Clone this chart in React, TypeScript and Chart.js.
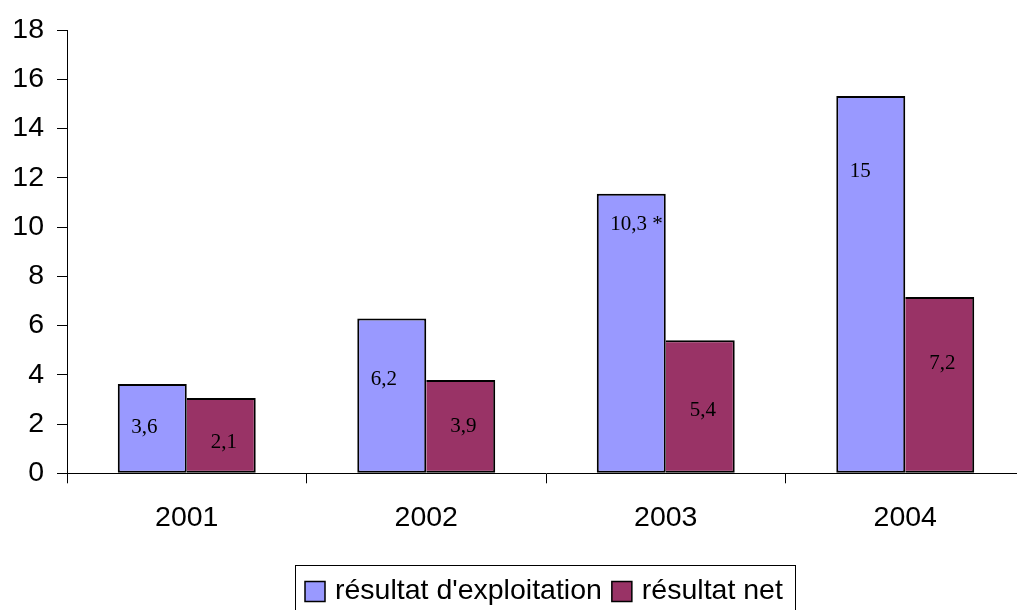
import React, { useEffect, useRef } from "react";
import { Chart, registerables } from "chart.js";

Chart.register(...registerables);

// ---- data ----
const categories = ["2001", "2002", "2003", "2004"];
const seriesNames = ["résultat d'exploitation", "résultat net"];
const exploitation = [3.63, 6.29, 11.35, 15.32];
const net = [3.06, 3.79, 5.4, 7.16];
const exploitationLabels = ["3,6", "6,2", "10,3 *", "15"];
const netLabels = ["2,1", "3,9", "5,4", "7,2"];
// where each value label sits, in y-axis units
const exploitationLabelAt = [1.88, 3.83, 10.09, 12.27];
const netLabelAt = [1.26, 1.92, 2.55, 4.46];
const yMin = 0;
const yMax = 18;
const yStep = 2;

const BLUE = "#9999FF";
const MAROON = "#993366";
const SANS = '"Liberation Sans", Arial, sans-serif';
const SERIF = '"Liberation Serif", "Times New Roman", serif';
const AXIS_FONT_SIZE = 28.5;

const valueLabelsPlugin = {
  id: "valueLabels",
  afterDatasetsDraw(chart: any) {
    const ctx = chart.ctx;
    const yScale = chart.scales.y;
    ctx.save();
    ctx.font = `21px ${SERIF}`;
    ctx.fillStyle = "#000";
    ctx.textBaseline = "middle";
    ctx.textAlign = "left";
    const sets = [
      { texts: exploitationLabels, at: exploitationLabelAt, inset: 13.5 },
      { texts: netLabels, at: netLabelAt, inset: 24 },
    ];
    sets.forEach((s, di) => {
      const meta = chart.getDatasetMeta(di);
      meta.data.forEach((bar: any, i: number) => {
        const { x, width } = bar.getProps(["x", "width"], true);
        ctx.fillText(s.texts[i], x - width / 2 + s.inset, yScale.getPixelForValue(s.at[i]));
      });
    });
    ctx.restore();
  },
};

const legendBoxPlugin = {
  id: "legendBox",
  afterDraw(chart: any) {
    const ctx = chart.ctx;
    const area = chart.chartArea;
    const colors = [BLUE, MAROON];
    const padL = 10;
    const padR = 12;
    const box = 20;
    const gap = 10;
    const itemGap = 10;
    ctx.save();
    ctx.font = `${AXIS_FONT_SIZE}px ${SANS}`;
    const widths = seriesNames.map((n) => ctx.measureText(n).width);
    let total = padL + padR + itemGap * (seriesNames.length - 1);
    widths.forEach((w) => (total += box + gap + w));
    const cx = (area.left + area.right) / 2 - 1.5;
    const left = Math.round(cx - total / 2);
    const top = 565;
    ctx.strokeStyle = "#000";
    ctx.lineWidth = 1;
    ctx.strokeRect(left + 0.5, top + 0.5, Math.round(total), 80);
    const cy = 591.5;
    let x = left + padL;
    seriesNames.forEach((name, i) => {
      ctx.fillStyle = colors[i];
      ctx.fillRect(x, cy - box / 2, box, box);
      ctx.lineWidth = 1.5;
      ctx.strokeStyle = "#000";
      ctx.strokeRect(x, cy - box / 2, box, box);
      x += box + gap;
      ctx.fillStyle = "#000";
      ctx.textBaseline = "middle";
      ctx.textAlign = "left";
      ctx.fillText(name, x, cy);
      x += widths[i] + itemGap;
    });
    ctx.restore();
  },
};

export default function App() {
  const canvasRef = useRef<HTMLCanvasElement | null>(null);

  useEffect(() => {
    document.body.style.margin = "0";
    const canvas = canvasRef.current;
    if (!canvas) return;
    const chart = new Chart(canvas, {
      type: "bar",
      data: {
        labels: categories,
        datasets: [
          {
            label: seriesNames[0],
            data: exploitation,
            backgroundColor: BLUE,
            borderColor: "#000",
            borderWidth: 2,
            borderSkipped: false,
            categoryPercentage: 0.576,
            barPercentage: 1,
          },
          {
            label: seriesNames[1],
            data: net,
            backgroundColor: MAROON,
            borderColor: "#000",
            borderWidth: 2,
            borderSkipped: "left",
            categoryPercentage: 0.576,
            barPercentage: 1,
          },
        ],
      },
      options: {
        responsive: false,
        animation: false,
        devicePixelRatio: 1,
        layout: { padding: { top: 27, left: 0, right: 0, bottom: 0 } },
        plugins: {
          legend: { display: false },
          tooltip: { enabled: false },
        },
        scales: {
          x: {
            grid: {
              offset: true,
              drawOnChartArea: false,
              tickLength: 10,
              color: "#000",
              lineWidth: 1,
            },
            border: { color: "#000", width: 1 },
            ticks: {
              font: { family: SANS, size: AXIS_FONT_SIZE },
              color: "#000",
              padding: 17.5,
              maxRotation: 0,
              autoSkip: false,
            },
            afterFit: (s: any) => {
              s.height = 610 - 473.3;
            },
          },
          y: {
            min: yMin,
            max: yMax,
            ticks: {
              stepSize: yStep,
              font: { family: SANS, size: AXIS_FONT_SIZE },
              color: "#000",
              padding: 13,
            },
            grid: {
              drawOnChartArea: false,
              tickLength: 10,
              color: "#000",
              lineWidth: 1,
            },
            border: { color: "#000", width: 1 },
            afterFit: (s: any) => {
              s.width = 67;
            },
          },
        },
      },
      plugins: [valueLabelsPlugin, legendBoxPlugin],
    } as any);
    return () => chart.destroy();
  }, []);

  return (
    <div style={{ width: 1017, height: 610, overflow: "hidden", position: "relative", background: "#fff" }}>
      <canvas ref={canvasRef} width={1025} height={610} style={{ display: "block" }} />
    </div>
  );
}
